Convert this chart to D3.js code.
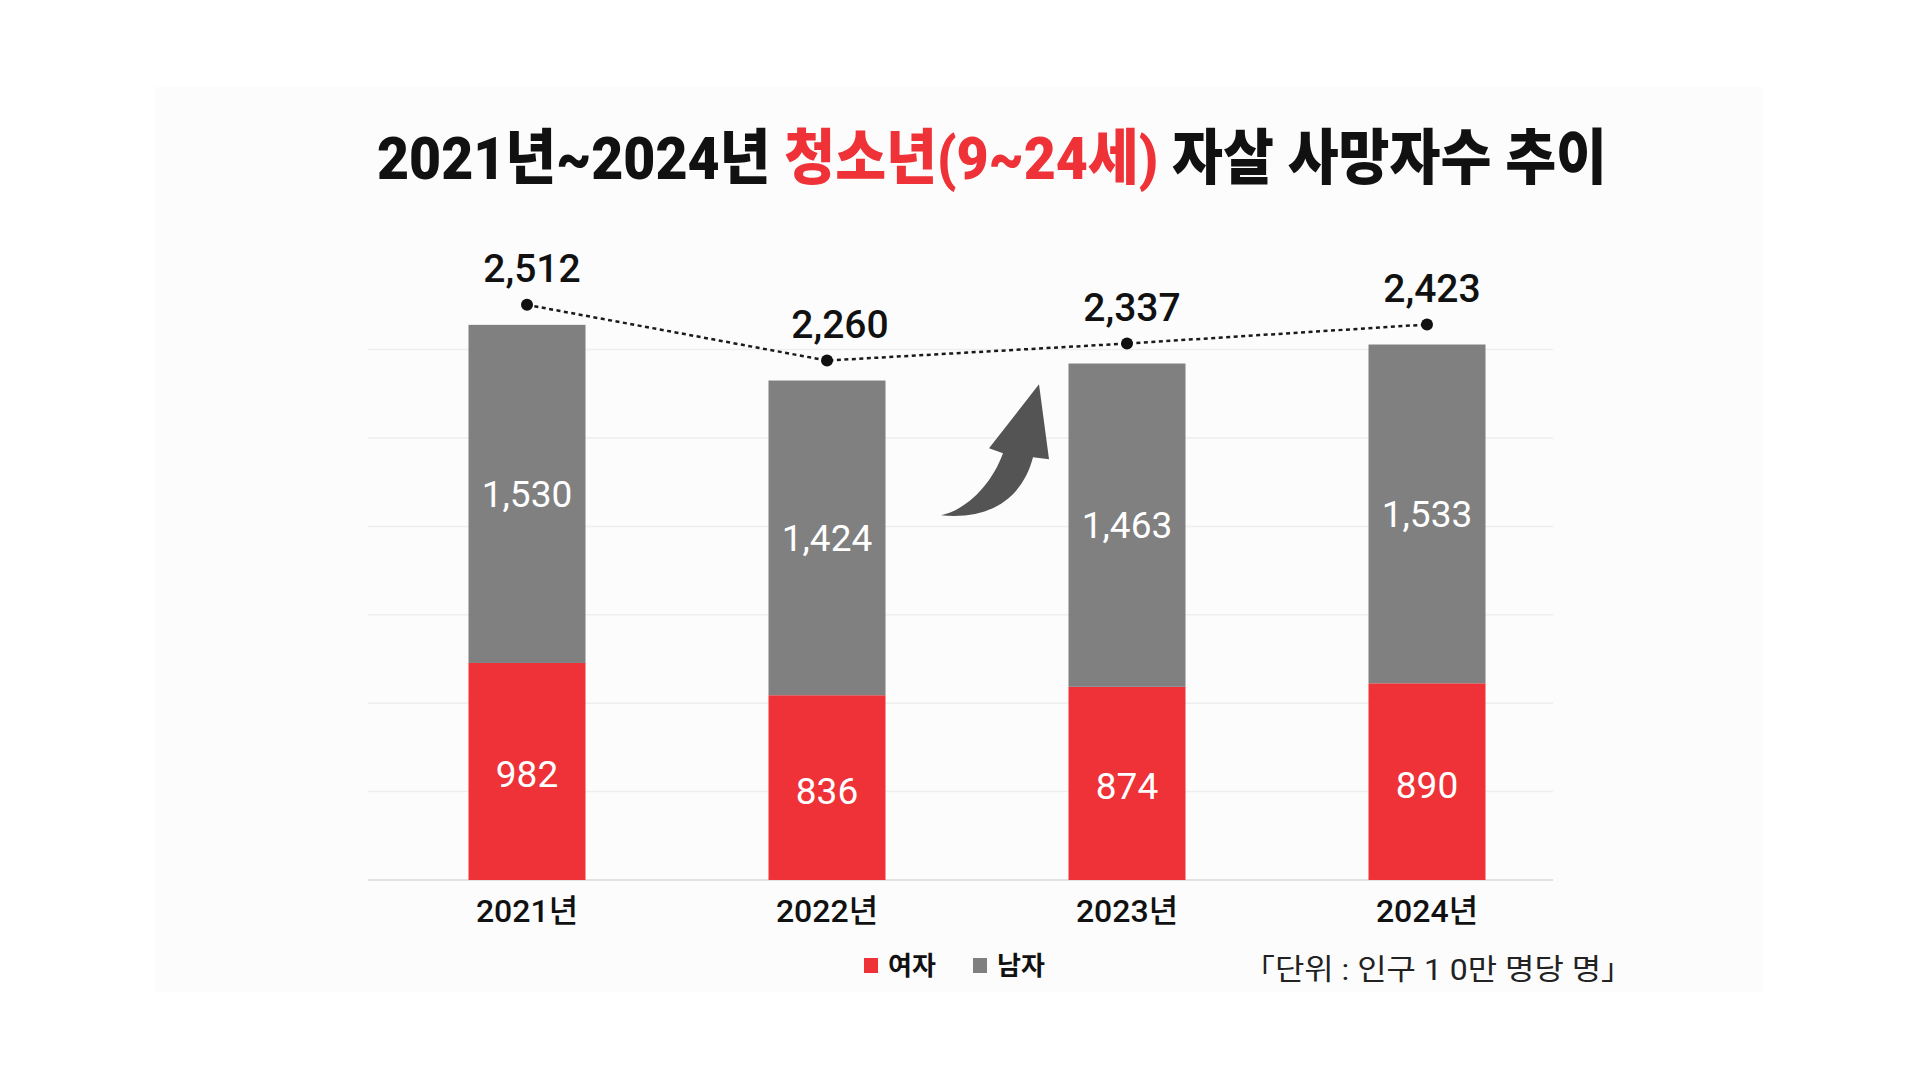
<!DOCTYPE html>
<html>
<head>
<meta charset="utf-8">
<script src="https://cdn.jsdelivr.net/npm/d3@7"></script>
<style>
  html, body { margin: 0; padding: 0; background: #fff; }
  #chart { width: 1920px; height: 1080px; }
  text { font-family: Roboto, "Noto Sans CJK KR", sans-serif; }
</style>
</head>
<body>
<div id="chart"></div>
<script>
const years = ["2021년", "2022년", "2023년", "2024년"];
const female = [982, 836, 874, 890];
const male = [1530, 1424, 1463, 1533];
const totals = [2512, 2260, 2337, 2423];
const gridTicks = [0, 400, 800, 1200, 1600, 2000, 2400];
const legendLabels = ["여자", "남자"];

const red = "#ee3237";
const gray = "#808080";

const width = 1920;
const height = 1080;

const svg = d3
  .select("#chart")
  .append("svg")
  .attr("width", width)
  .attr("height", height)
  .attr("viewBox", [0, 0, width, height]);

// soft background panel
svg.append("rect")
  .attr("x", 155).attr("y", 87)
  .attr("width", 1607).attr("height", 905)
  .attr("fill", "#fcfcfc");

// title
const title = svg.append("text")
  .attr("x", 992)
  .attr("y", 179)
  .attr("text-anchor", "middle")
  .attr("font-size", 60)
  .attr("font-weight", 900)
  .attr("fill", "#111")
  .attr("textLength", 1230)
  .attr("lengthAdjust", "spacingAndGlyphs");
title.append("tspan").text("2021년~2024년 ");
title.append("tspan").attr("fill", red).text("청소년(9~24세)");
title.append("tspan").text(" 자살 사망자수 추이");

const x = d3.scaleBand()
  .domain(years)
  .range([377, 1577])
  .paddingInner(0.61)
  .paddingOuter(0.305);

const y = d3.scaleLinear()
  .domain([0, 2400])
  .range([880, 880 - 0.221 * 2400]);

const bw = x.bandwidth();

// gridlines
svg.append("g")
  .selectAll("line")
  .data(gridTicks)
  .enter()
  .append("line")
  .attr("x1", 368)
  .attr("x2", 1553)
  .attr("y1", (d) => y(d))
  .attr("y2", (d) => y(d))
  .attr("stroke", (d) => (d === 0 ? "#e2e2e2" : "#eeeeee"))
  .attr("stroke-width", (d) => (d === 0 ? 2 : 1.5));

const rows = years.map((yr, i) => ({
  year: yr,
  female: female[i],
  male: male[i],
  total: totals[i],
}));

// female (bottom) segment
svg.append("g")
  .selectAll("rect")
  .data(rows)
  .enter()
  .append("rect")
  .attr("x", (d) => x(d.year))
  .attr("width", bw)
  .attr("y", (d) => y(d.female))
  .attr("height", (d) => y(0) - y(d.female))
  .attr("fill", red);

// male (top) segment
svg.append("g")
  .selectAll("rect")
  .data(rows)
  .enter()
  .append("rect")
  .attr("x", (d) => x(d.year))
  .attr("width", bw)
  .attr("y", (d) => y(d.female + d.male))
  .attr("height", (d) => y(d.female) - y(d.female + d.male))
  .attr("fill", gray);

const fmt = d3.format(",");

// white labels inside segments
const inner = svg.append("g")
  .attr("fill", "#fff")
  .attr("font-size", 37)
  .attr("font-weight", 400)
  .attr("text-anchor", "middle");

inner.selectAll(".f")
  .data(rows)
  .enter()
  .append("text")
  .attr("x", (d) => x(d.year) + bw / 2)
  .attr("y", (d) => (y(0) + y(d.female)) / 2 + 16)
  .text((d) => fmt(d.female));

inner.selectAll(".m")
  .data(rows)
  .enter()
  .append("text")
  .attr("x", (d) => x(d.year) + bw / 2)
  .attr("y", (d) => (y(d.female) + y(d.female + d.male)) / 2 + 13)
  .text((d) => fmt(d.male));

// total trend line, floated a little above the bars
const lift = 20;
const line = d3.line()
  .x((d) => x(d.year) + bw / 2)
  .y((d) => y(d.total) - lift);

svg.append("path")
  .datum(rows)
  .attr("d", line)
  .attr("fill", "none")
  .attr("stroke", "#1a1a1a")
  .attr("stroke-width", 2.5)
  .attr("stroke-dasharray", "4,3.5");

svg.append("g")
  .selectAll("circle")
  .data(rows)
  .enter()
  .append("circle")
  .attr("cx", (d) => x(d.year) + bw / 2)
  .attr("cy", (d) => y(d.total) - lift)
  .attr("r", 6)
  .attr("fill", "#111");

svg.append("g")
  .attr("font-size", 39)
  .attr("font-weight", 500)
  .attr("fill", "#111")
  .attr("text-anchor", "middle")
  .selectAll("text")
  .data(rows)
  .enter()
  .append("text")
  .attr("x", (d, i) => x(d.year) + bw / 2 + (i === 1 ? 13 : 5))
  .attr("y", (d) => y(d.total) - lift - 23)
  .text((d) => fmt(d.total));

// rising arrow between 2022 and 2023
const mid = (x(years[1]) + bw + x(years[2])) / 2;
svg.append("path")
  .attr("transform", `translate(${mid},${y(1700)})`)
  .attr("d", "M-36,11 C-12,6 14,-18 26,-51 L12,-56 L62,-120 L72,-45 L56,-47 C46,-8 15,16 -36,11 Z")
  .attr("fill", "#545454");

// x axis labels
svg.append("g")
  .attr("font-size", 32)
  .attr("font-weight", 500)
  .attr("fill", "#111")
  .attr("text-anchor", "middle")
  .selectAll("text")
  .data(years)
  .enter()
  .append("text")
  .attr("x", (d) => x(d) + bw / 2)
  .attr("y", 922)
  .text((d) => d);

// legend
const legend = svg.append("g")
  .selectAll("g")
  .data(legendLabels)
  .enter()
  .append("g")
  .attr("transform", (d, i) => `translate(${864 + i * 109},958)`);

legend.append("rect")
  .attr("width", 14)
  .attr("height", 15)
  .attr("fill", (d, i) => (i === 0 ? red : gray));

legend.append("text")
  .attr("x", 24)
  .attr("y", 17)
  .attr("font-size", 26)
  .attr("font-weight", 700)
  .attr("fill", "#111")
  .text((d) => d);

// unit note
svg.append("text")
  .attr("x", 1243)
  .attr("y", 980)
  .attr("font-size", 29)
  .attr("font-weight", 400)
  .attr("fill", "#222")
  .attr("textLength", 390)
  .attr("lengthAdjust", "spacingAndGlyphs")
  .text("「단위 : 인구 1 0만 명당 명」");
</script>
</body>
</html>
